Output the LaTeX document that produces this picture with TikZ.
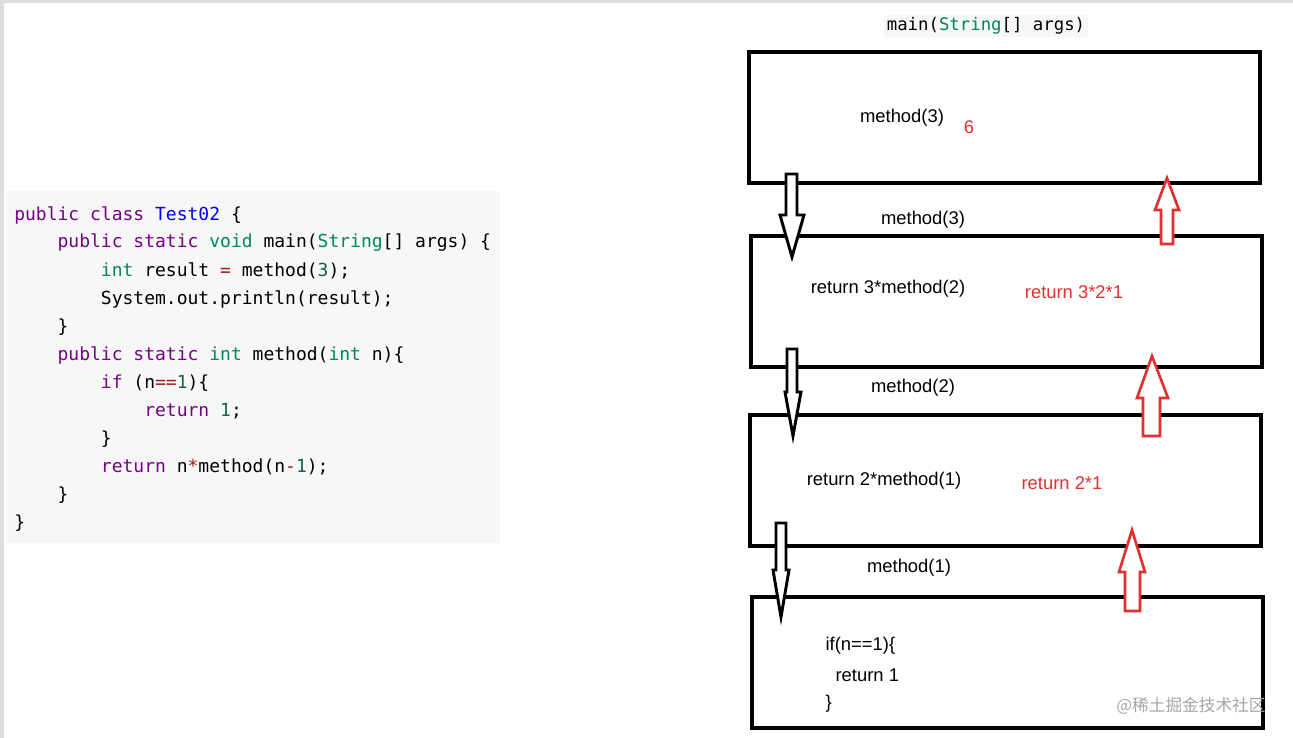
\documentclass[tikz,border=0pt]{standalone}
\usepackage{fontspec}
\setmainfont{Liberation Sans}
\setmonofont{DejaVu Sans Mono}
\newfontfamily\cjk{Noto Sans CJK SC}
\definecolor{kw}{HTML}{770088}
\definecolor{ty}{HTML}{008855}
\definecolor{cls}{HTML}{0000FF}
\definecolor{num}{HTML}{116644}
\definecolor{op}{HTML}{981A1A}
\definecolor{ret}{HTML}{E03030}
\newcommand{\kw}[1]{\textcolor{kw}{#1}}
\newcommand{\ty}[1]{\textcolor{ty}{#1}}
\newcommand{\nm}[1]{\textcolor{num}{#1}}
\newcommand{\op}[1]{\textcolor{op}{#1}}
\begin{document}
\begin{tikzpicture}[x=0.75pt,y=-0.75pt]
    \tikzstyle{frame}=[draw=black,line width=2.4pt,inner sep=0pt]
    \tikzstyle{code}=[anchor=west,inner sep=0pt,font=\ttfamily\fontsize{13.5}{16}\selectfont]
    \tikzstyle{call}=[inner sep=1pt,font=\fontsize{13.8}{16}\selectfont]
    \tikzstyle{back}=[call,text=ret]
    \tikzstyle{down}=[draw=black,line width=2.2pt,fill=white]
    \tikzstyle{up}=[draw=ret,line width=2pt,fill=white]

    \def\dy{28}

    \useasboundingbox (0,0) rectangle (1293,738);
    \fill[white] (0,0) rectangle (1293,738);
    \fill[blue!8!gray!25] (0,0) rectangle (4,738);
    \fill[blue!8!gray!25] (0,0) rectangle (1293,3);
    \fill[gray!6] (5,191) rectangle (500,543);

    % code listing
    \node[code] (c1) at (14,215+0*\dy) {\kw{public} \kw{class} \textcolor{cls}{Test02} \{};
    \node[code] (c2) at (14,215+1*\dy) {~~~~\kw{public} \kw{static} \ty{void} main(\ty{String}[] args) \{};
    \node[code] (c3) at (14,215+2*\dy) {~~~~~~~~\ty{int} result \op{=} method(\nm{3});};
    \node[code] (c4) at (14,215+3*\dy) {~~~~~~~~System.out.println(result);};
    \node[code] (c5) at (14,215+4*\dy) {~~~~\}};
    \node[code] (c6) at (14,215+5*\dy) {~~~~\kw{public} \kw{static} \ty{int} method(\ty{int} n)\{};
    \node[code] (c7) at (14,215+6*\dy) {~~~~~~~~\kw{if} (n\op{==}\nm{1})\{};
    \node[code] (c8) at (14,215+7*\dy) {~~~~~~~~~~~~\kw{return} \nm{1};};
    \node[code] (c9) at (14,215+8*\dy) {~~~~~~~~\}};
    \node[code] (c10) at (14,215+9*\dy) {~~~~~~~~\kw{return} n\op{*}method(n\op{-}\nm{1});};
    \node[code] (c11) at (14,215+10*\dy) {~~~~\}};
    \node[code] (c12) at (14,215+11*\dy) {\}};

    % stack frames
    \node[frame,minimum width=511*0.75pt,minimum height=131*0.75pt] (f1) at (1004.5,117.5) {};
    \node[frame,minimum width=511*0.75pt,minimum height=131*0.75pt] (f2) at (1006.5,301.5) {};
    \node[frame,minimum width=511*0.75pt,minimum height=131*0.75pt] (f3) at (1005.5,480.5) {};
    \node[frame,minimum width=511*0.75pt,minimum height=131*0.75pt] (f4) at (1007.5,662.5) {};

    \node[code,anchor=center,fill=gray!6,inner sep=2pt,font=\ttfamily\fontsize{13}{15}\selectfont] (main) at (986,26) {main(\ty{String}[] args)};

    \node[call] (m3) at (902,118) {method(3)};
    \node[back] (r6) at (969,127) {6};
    \node[call] (l3) at (923,220) {method(3)};
    \node[call] (b2) at (888,289) {return 3*method(2)};
    \node[back] (v2) at (1074,292) {return 3*2*1};
    \node[call] (l2) at (913,388) {method(2)};
    \node[call] (b1) at (884,481) {return 2*method(1)};
    \node[back] (v1) at (1062,483) {return 2*1};
    \node[call] (l1) at (909,568) {method(1)};
    \node[call,anchor=west] (i1) at (824,646) {if(n==1)\{};
    \node[call,anchor=west] (i2) at (834,675) {return 1};
    \node[call,anchor=west] (i3) at (824,704) {\}};

    % calls going down
    \draw[down] (786,174) -- (797,174) -- (797,215) -- (804,215) -- (792,257) -- (780,215) -- (786,215) -- cycle;
    \draw[down] (787,349) -- (797,349) -- (797,392) -- (801,392) -- (793,436) -- (785,392) -- (787,392) -- cycle;
    \draw[down] (776,523) -- (786,523) -- (786,570) -- (789,570) -- (781,617) -- (773,570) -- (776,570) -- cycle;

    % values going up
    \draw[up] (1161,244) -- (1173,244) -- (1173,210) -- (1179,210) -- (1167,178) -- (1155,210) -- (1161,210) -- cycle;
    \draw[up] (1143,436) -- (1160,436) -- (1160,398) -- (1168,398) -- (1152,356) -- (1137,398) -- (1143,398) -- cycle;
    \draw[up] (1125,611) -- (1140,611) -- (1140,572) -- (1145,572) -- (1132,530) -- (1119,572) -- (1125,572) -- cycle;

    \node[text=gray!70,font=\cjk\fontsize{12.5}{14}\selectfont] (wm) at (1191,706) {@稀土掘金技术社区};
\end{tikzpicture}
\end{document}
